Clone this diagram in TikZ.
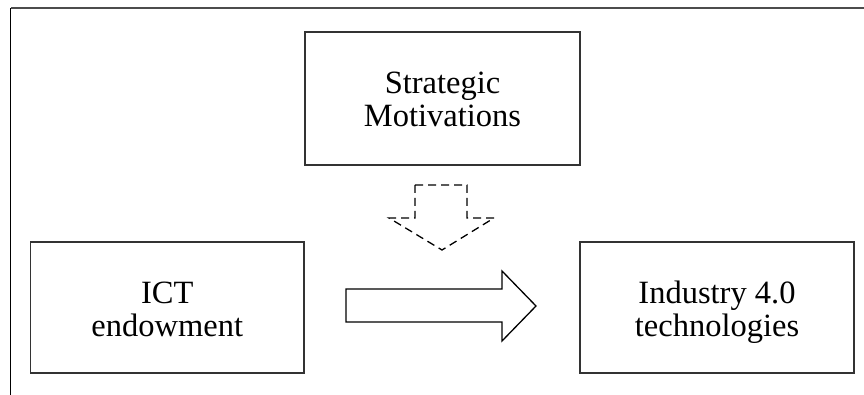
\documentclass[tikz,border=0pt]{standalone}
\usepackage{fontspec}
\setmainfont{Liberation Serif}
\begin{document}
\begin{tikzpicture}[x=1pt,y=-1pt,
  box/.style={draw=black!80,line width=1.3pt,minimum width=#1,minimum height=131pt,inner sep=0pt},
  lbl/.style={anchor=base,inner sep=0pt,font=\fontsize{32.5}{33}\selectfont},
  blockarrow/.style={draw=black,line width=1.3pt,line join=miter}]
\useasboundingbox (0,0) rectangle (864,395);
\draw[black!70,line width=1.6pt] (864,8) -- (10.5,8);
\draw[black,line width=1.1pt] (10.5,8) -- (10.5,395);
\node[box=275pt,minimum height=133pt] (sm) at (442.5,98.5) {};
\node[box=273.5pt] (ict) at (167.25,307.5) {};
\node[box=274pt] (ind) at (717,307.5) {};
\node[lbl] (sm1) at ([yshift=4.5pt]sm.center) {Strategic};
\node[lbl] (sm2) at ([yshift=-28.5pt]sm.center) {Motivations};
\node[lbl] (ict1) at ([yshift=4.5pt]ict.center) {ICT};
\node[lbl] (ict2) at ([yshift=-28.5pt]ict.center) {endowment};
\node[lbl] (ind1) at ([yshift=4.5pt]ind.center) {Industry 4.0};
\node[lbl] (ind2) at ([yshift=-28.5pt]ind.center) {technologies};
\draw[blockarrow,dash pattern=on 8pt off 5pt]
  (415,185) -- (467,185) -- (467,218) -- (494,218) -- (442,250) -- (389,218) -- (415,218) -- cycle;
\draw[blockarrow]
  (346,289) -- (502,289) -- (502,271) -- (536,306) -- (502,341) -- (502,322) -- (346,322) -- cycle;
\end{tikzpicture}
\end{document}
